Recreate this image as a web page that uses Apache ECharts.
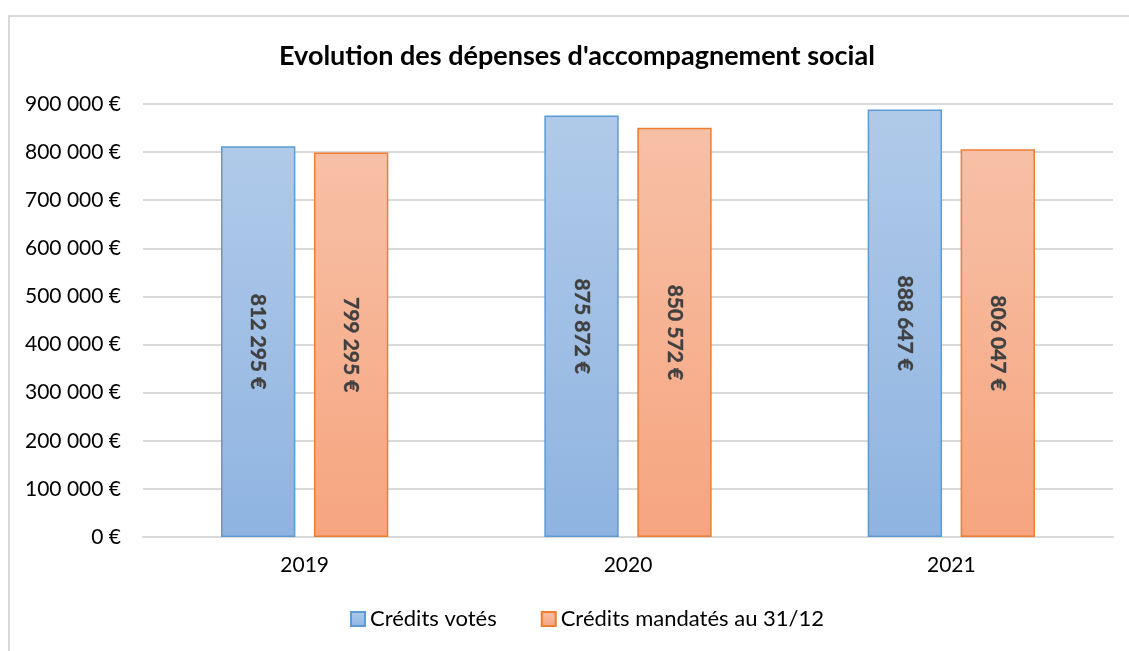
<!DOCTYPE html>
<html>
<head>
<meta charset="utf-8">
<script src="https://cdn.jsdelivr.net/npm/echarts@6/dist/echarts.min.js"></script>
<style>
  html, body { margin: 0; padding: 0; background: #fff; }
  #frame { position: absolute; left: 8px; top: 15px; width: 1140px; height: 660px; border: 2px solid #d9d9d9; box-sizing: border-box; }
  #main { width: 1129px; height: 651px; position: absolute; left: 0; top: 0; }
</style>
</head>
<body>
<div id="frame"></div>
<div id="main"></div>
<script>
// données du graphique
const years = ['2019', '2020', '2021'];
const creditsVotes = [812295, 875872, 888647];
const creditsMandates = [799295, 850572, 806047];
const seriesNames = ['Crédits votés', 'Crédits mandatés au 31/12'];

function euro(v) {
  return String(Math.round(v)).replace(/\B(?=(\d{3})+(?!\d))/g, ' ') + ' €';
}

const font = 'Lato, "Open Sans", sans-serif';
let myChart = echarts.init(document.getElementById('main'));

function grad(top, bottom) {
  return new echarts.graphic.LinearGradient(0, 0, 0, 1, [
    { offset: 0, color: top },
    { offset: 1, color: bottom }
  ]);
}

let barLabel = {
  show: true,
  position: 'inside',
  rotate: -90,
  fontFamily: font,
  fontWeight: 'bold',
  fontSize: 21,
  color: '#404040',
  textBorderColor: '#404040',
  textBorderWidth: 0.4,
  formatter: function (p) { return euro(p.value); }
};

let option = {
  animation: false,
  title: {
    text: "Evolution des dépenses d'accompagnement social",
    left: 274,
    top: 38,
    textStyle: { fontFamily: font, fontWeight: 'bold', fontSize: 27, color: '#000' }
  },
  legend: {
    data: seriesNames,
    bottom: 16,
    left: 345,
    itemWidth: 14,
    itemHeight: 14,
    itemGap: 44,
    icon: 'rect',
    textStyle: { fontFamily: font, fontSize: 22, color: '#000' }
  },
  grid: { left: 143, right: 16, top: 104, bottom: 114, containLabel: false },
  xAxis: {
    type: 'category',
    data: years,
    axisTick: { show: false },
    axisLine: { lineStyle: { color: '#d9d9d9', width: 2 } },
    axisLabel: { fontFamily: font, fontSize: 21, color: '#000', margin: 18 }
  },
  yAxis: {
    type: 'value',
    min: 0,
    max: 900000,
    interval: 100000,
    axisLabel: { fontFamily: font, fontSize: 21, color: '#000', margin: 22, formatter: euro },
    splitLine: { lineStyle: { color: '#d9d9d9', width: 2 } }
  },
  series: [
    {
      name: seriesNames[0],
      type: 'bar',
      data: creditsVotes,
      barWidth: '23%',
      barGap: '25%',
      itemStyle: { color: grad('#b0cae9', '#8fb4e1'), borderColor: '#5b9bd5', borderWidth: 1.5 },
      label: barLabel
    },
    {
      name: seriesNames[1],
      type: 'bar',
      data: creditsMandates,
      barWidth: '23%',
      itemStyle: { color: grad('#f7c0a6', '#f6a57f'), borderColor: '#ed7d31', borderWidth: 1.5 },
      label: barLabel
    }
  ]
};
myChart.setOption(option);
</script>
</body>
</html>
